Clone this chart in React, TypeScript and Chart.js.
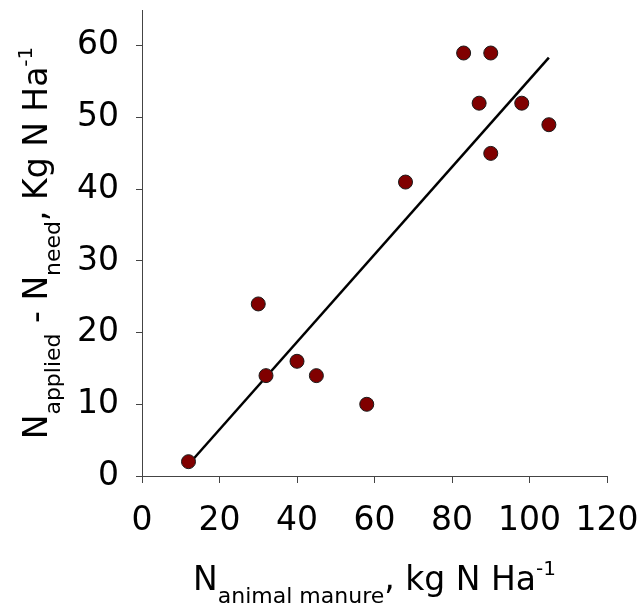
import React, { useEffect, useRef } from "react";
import { Chart, registerables } from "chart.js";

Chart.register(...registerables);

// Manure N applied (kg N/ha) against surplus N (applied minus need)
const manureN = [12, 30, 32, 40, 45, 58, 68, 83, 90, 87, 98, 105, 90];
const surplusN = [2, 24, 14, 16, 14, 10, 41, 59, 59, 52, 52, 49, 45];

const xTicks = [0, 20, 40, 60, 80, 100, 120];
const yTicks = [0, 10, 20, 30, 40, 50, 60];
const yAxisMax = 65;

const FONT = "'DejaVu Sans', Verdana, sans-serif";
const MAIN = 33;
const SUB = 22;
const SUP = 20;

// Least-squares fit through the observations, drawn across the observed x range
function linearFit(xs: number[], ys: number[]) {
  const n = xs.length;
  const mx = xs.reduce((a, b) => a + b, 0) / n;
  const my = ys.reduce((a, b) => a + b, 0) / n;
  let sxy = 0;
  let sxx = 0;
  for (let i = 0; i < n; i++) {
    sxy += (xs[i] - mx) * (ys[i] - my);
    sxx += (xs[i] - mx) * (xs[i] - mx);
  }
  const slope = sxy / sxx;
  return { slope, intercept: my - slope * mx };
}

type Piece = { text: string; size: number; shift: number };

function drawRich(ctx: CanvasRenderingContext2D, pieces: Piece[], cx: number, baseline: number) {
  let total = 0;
  for (const p of pieces) {
    ctx.font = `${p.size}px ${FONT}`;
    total += ctx.measureText(p.text).width;
  }
  let x = cx - total / 2;
  ctx.textAlign = "left";
  ctx.textBaseline = "alphabetic";
  for (const p of pieces) {
    ctx.font = `${p.size}px ${FONT}`;
    ctx.fillText(p.text, x, baseline + p.shift);
    x += ctx.measureText(p.text).width;
  }
}

// Axis titles with sub- and superscripts
const axisTitles = {
  id: "axisTitles",
  afterDraw(chart: any) {
    const { ctx, chartArea } = chart;
    ctx.save();
    ctx.fillStyle = "#000";
    const xPieces: Piece[] = [
      { text: "N", size: MAIN, shift: 0 },
      { text: "animal manure", size: SUB, shift: 13 },
      { text: ",", size: MAIN, shift: -1 },
      { text: " kg N Ha", size: MAIN, shift: 0 },
      { text: "-1", size: SUP, shift: -15 },
    ];
    drawRich(ctx, xPieces, (chartArea.left + chartArea.right) / 2, 590);

    const yPieces: Piece[] = [
      { text: "N", size: MAIN, shift: 0 },
      { text: "applied", size: SUB, shift: 13 },
      { text: " - N", size: MAIN, shift: 0 },
      { text: "need", size: SUB, shift: 13 },
      { text: ",", size: MAIN, shift: -1 },
      { text: " Kg N Ha", size: MAIN, shift: 0 },
      { text: "-1", size: SUP, shift: -15 },
    ];
    ctx.translate(47, (chartArea.top + chartArea.bottom) / 2);
    ctx.rotate(-Math.PI / 2);
    drawRich(ctx, yPieces, 0, 0);
    ctx.restore();
  },
};

export default function App() {
  const canvasRef = useRef<HTMLCanvasElement | null>(null);

  useEffect(() => {
    const canvas = canvasRef.current;
    if (!canvas) return;
    const fit = linearFit(manureN, surplusN);
    const xMin = Math.min(...manureN);
    const xMax = Math.max(...manureN);

    const chart = new Chart(canvas, {
      type: "scatter",
      data: {
        datasets: [
          {
            type: "scatter",
            data: manureN.map((x, i) => ({ x, y: surplusN[i] })),
            backgroundColor: "#800000",
            borderColor: "#1a1a1a",
            borderWidth: 1,
            pointRadius: 7,
            order: 0,
          },
          {
            type: "line",
            data: [
              { x: xMin, y: fit.intercept + fit.slope * xMin },
              { x: xMax, y: fit.intercept + fit.slope * xMax },
            ],
            borderColor: "#000",
            borderWidth: 2.5,
            pointRadius: 0,
            fill: false,
            order: 1,
          },
        ],
      },
      options: {
        responsive: false,
        animation: false,
        devicePixelRatio: 1,
        layout: { padding: { top: 10, right: 34, left: 0, bottom: 0 } },
        plugins: { legend: { display: false }, tooltip: { enabled: false } },
        scales: {
          x: {
            type: "linear",
            min: xTicks[0],
            max: xTicks[xTicks.length - 1],
            afterBuildTicks: (scale: any) => {
              scale.ticks = xTicks.map((v) => ({ value: v }));
            },
            afterFit: (scale: any) => {
              scale.height = 128;
              scale.paddingLeft = 0;
              scale.paddingRight = 0;
            },
            ticks: {
              color: "#000",
              font: { family: FONT, size: MAIN },
              padding: 19,
              maxRotation: 0,
              autoSkip: false,
            },
            grid: { drawOnChartArea: false, drawTicks: true, tickLength: 7, color: "#444" },
            border: { display: true, color: "#444", width: 1 },
          },
          y: {
            type: "linear",
            min: yTicks[0],
            max: yAxisMax,
            afterBuildTicks: (scale: any) => {
              scale.ticks = yTicks.map((v) => ({ value: v }));
            },
            afterFit: (scale: any) => {
              scale.width = 142;
              scale.paddingTop = 0;
              scale.paddingBottom = 0;
            },
            ticks: {
              color: "#000",
              font: { family: FONT, size: MAIN },
              padding: 17,
              autoSkip: false,
            },
            grid: { drawOnChartArea: false, drawTicks: true, tickLength: 6, color: "#444" },
            border: { display: true, color: "#444", width: 1 },
          },
        },
      },
      plugins: [axisTitles],
    });
    return () => chart.destroy();
  }, []);

  return (
    <div style={{ position: "fixed", left: 0, top: 0, width: 641, height: 604, background: "#fff" }}>
      <canvas ref={canvasRef} width={641} height={604} />
    </div>
  );
}
